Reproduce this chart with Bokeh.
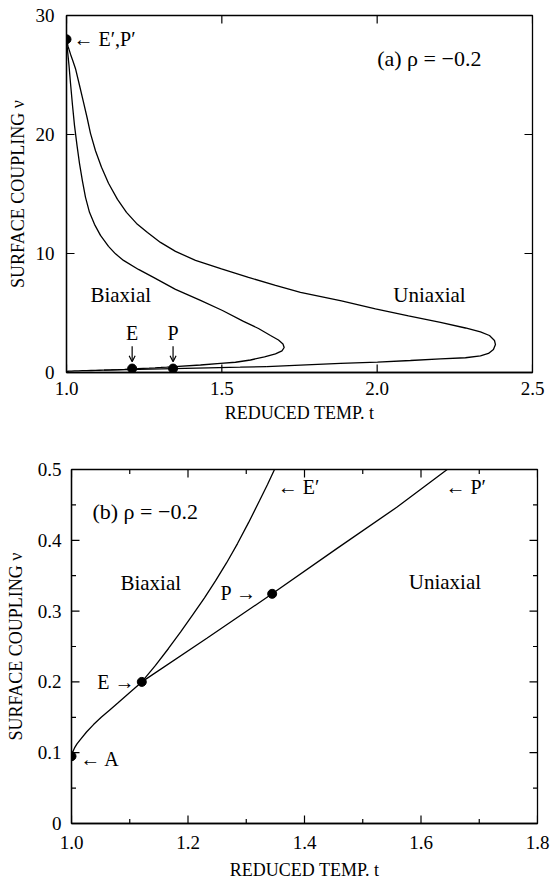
import math
from bokeh.plotting import figure
from bokeh.models import Range1d, FixedTicker, Label, NumeralTickFormatter, Arrow, OpenHead
from bokeh.embed import file_html
from bokeh.resources import INLINE

# ---------------- data ----------------
# panel (a): outer (P') and inner (E') phase boundaries
outer_t = [1.0, 1.0048, 1.0129, 1.0209, 1.029, 1.0418, 1.0537, 1.066, 1.0772, 1.0933,
           1.1127, 1.1352, 1.1641, 1.1931, 1.2253, 1.2607, 1.3025, 1.3508, 1.4152,
           1.4989, 1.5858, 1.6727, 1.7531, 1.8851, 1.9945, 2.1007, 2.2037, 2.2842,
           2.3325, 2.3615, 2.3776, 2.3808, 2.3743, 2.3582, 2.3325, 2.2842, 2.2037,
           2.1072, 2.001, 1.8819, 1.7531, 1.645]
outer_v = [28.0, 27.42, 26.75, 26.16, 25.53, 24.14, 22.83, 21.45, 20.10, 18.63,
           17.24, 15.90, 14.55, 13.46, 12.53, 11.77, 10.93, 10.18, 9.42,
           8.70, 7.99, 7.32, 6.73, 6.01, 5.34, 4.75, 4.21, 3.74,
           3.41, 3.11, 2.69, 2.35, 1.93, 1.60, 1.39, 1.24, 1.14,
           1.01, 0.88, 0.76, 0.62, 0.50]
inner_t = [1.0, 1.0032, 1.008, 1.0129, 1.0193, 1.0257, 1.0338, 1.0418, 1.0515, 1.0612,
           1.074, 1.0901, 1.1094, 1.1352, 1.1577, 1.1835, 1.2317, 1.28, 1.3508, 1.4313,
           1.5021, 1.5697, 1.618, 1.6566, 1.6823, 1.6968, 1.7007, 1.6936, 1.6727,
           1.6373, 1.5922, 1.5439, 1.4957, 1.4313, 1.3485]
inner_v = [28.0, 27.08, 25.82, 24.31, 22.46, 20.77, 19.09, 17.58, 16.06, 14.72,
           13.46, 12.45, 11.52, 10.60, 9.97, 9.42, 8.66, 7.99, 6.98, 6.06,
           5.21, 4.29, 3.70, 3.11, 2.73, 2.40, 2.10, 1.81, 1.56,
           1.32, 1.05, 0.86, 0.76, 0.63, 0.50]

# low-coupling branches (panel b, also drawn in panel a)
ae_t = [1.0, 1.0021, 1.0052, 1.0094, 1.0155, 1.0258, 1.0378, 1.0515, 1.0652, 1.079,
        1.0927, 1.1064, 1.1207]
ae_v = [0.095, 0.1011, 0.1067, 0.1124, 0.1187, 0.1292, 0.1397, 0.1503, 0.1601, 0.1699,
        0.1798, 0.1896, 0.2]
ep_t = [1.1207, 1.1442, 1.1665, 1.1871, 1.2077, 1.2283, 1.2472, 1.2661, 1.285, 1.3039,
        1.3227, 1.3365, 1.3485]
ep_v = [0.2, 0.2233, 0.2472, 0.2704, 0.2942, 0.3188, 0.3427, 0.368, 0.3954, 0.4249,
        0.4558, 0.4789, 0.5]
pp_t = [1.1207, 1.233, 1.3445, 1.456, 1.559, 1.645]
pp_v = [0.2, 0.262, 0.3244, 0.3886, 0.447, 0.5]

# special points
pts_a_t = [1.0, 1.2113, 1.343]
pts_a_v = [28.0, 0.33, 0.33]
pts_b_t = [1.0, 1.1207, 1.3445]
pts_b_v = [0.095, 0.2, 0.3244]

# ticks
xa_ticks = [1.0, 1.5, 2.0, 2.5]
ya_ticks = [0, 10, 20, 30]
xb_ticks = [1.0, 1.2, 1.4, 1.6, 1.8]
xb_minor = [1.1, 1.3, 1.5, 1.7]
yb_ticks = [0.0, 0.1, 0.2, 0.3, 0.4, 0.5]
yb_minor = [0.05, 0.15, 0.25, 0.35, 0.45]

FONT = "Liberation Serif"
XLABEL = "REDUCED TEMP. t"
YLABEL = "SURFACE COUPLING \u03bd"


def style_axis(ax):
    ax.major_tick_in = 0
    ax.major_tick_out = 0
    ax.minor_tick_in = 0
    ax.minor_tick_out = 0
    ax.axis_line_color = "black"
    ax.axis_line_width = 1.3
    ax.major_label_text_font = FONT
    ax.major_label_text_font_size = "19px"
    ax.major_label_text_color = "black"
    ax.axis_label_text_font = FONT
    ax.axis_label_text_font_size = "18px"
    ax.axis_label_text_font_style = "normal"
    ax.axis_label_text_color = "black"


def inward_ticks(p, xticks, yticks, x0, x1, y0, y1, size):
    # short inward tick marks on all four sides (half of each dash is clipped by the frame)
    n, m = len(xticks), len(yticks)
    p.scatter(xticks, [y0] * n, marker="dash", angle=math.pi / 2, size=size,
              line_color="black", line_width=1.2)
    p.scatter(xticks, [y1] * n, marker="dash", angle=math.pi / 2, size=size,
              line_color="black", line_width=1.2)
    p.scatter([x0] * m, yticks, marker="dash", size=size, line_color="black", line_width=1.2)
    p.scatter([x1] * m, yticks, marker="dash", size=size, line_color="black", line_width=1.2)


def add_label(p, x, y, text, align="left", size="21px", baseline="middle", font=FONT):
    p.add_layout(Label(x=x, y=y, text=text, text_font=font, text_font_size=size,
                       text_align=align, text_baseline=baseline, text_color="black"))


def down_arrow(p, x, y0, y1):
    p.add_layout(Arrow(end=OpenHead(size=6, line_width=1.2, line_color="black"),
                       x_start=x, y_start=y0, x_end=x, y_end=y1,
                       line_width=1.2, line_color="black"))


# ---------------- panel (a) ----------------
pa = figure(width=551, height=440, output_backend="svg", toolbar_location=None,
            x_range=Range1d(1.0, 2.5), y_range=Range1d(0, 30),
            min_border_left=66, min_border_right=19, min_border_top=15, min_border_bottom=68,
            x_axis_label=XLABEL, y_axis_label=YLABEL)
pa.grid.visible = False
pa.outline_line_color = "black"
pa.outline_line_width = 1.3
pa.xaxis.ticker = FixedTicker(ticks=xa_ticks, minor_ticks=[])
pa.yaxis.ticker = FixedTicker(ticks=ya_ticks, minor_ticks=[])
pa.xaxis.formatter = NumeralTickFormatter(format="0.0")
for ax in pa.xaxis + pa.yaxis:
    style_axis(ax)
pa.xaxis.major_label_standoff = 9
pa.xaxis.axis_label_standoff = 5
pa.yaxis.major_label_standoff = 12
pa.yaxis.axis_label_standoff = 5

inward_ticks(pa, xa_ticks, ya_ticks, 1.0, 2.5, 0, 30, 16)
for tt, vv in ((outer_t, outer_v), (inner_t, inner_v), (ae_t, ae_v), (ep_t, ep_v), (pp_t, pp_v)):
    pa.line(tt, vv, line_color="black", line_width=1.3)
pa.scatter(pts_a_t, pts_a_v, size=9, color="black")

add_label(pa, 2.0, 26.4, "(a) \u03c1 = \u22120.2", size="22px")
add_label(pa, 1.0225, 28.0, "\u2190 E\u2032,P\u2032", size="20px")
add_label(pa, 1.077, 6.48, "Biaxial")
add_label(pa, 2.052, 6.48, "Uniaxial")
add_label(pa, 1.2113, 3.3, "E", align="center", size="20px")
add_label(pa, 1.343, 3.3, "P", align="center", size="20px")
down_arrow(pa, 1.2113, 2.2, 0.9)
down_arrow(pa, 1.343, 2.2, 0.9)

# ---------------- panel (b) ----------------
pb = figure(width=551, height=442, output_backend="svg", toolbar_location=None,
            x_range=Range1d(1.0, 1.8), y_range=Range1d(0, 0.5),
            min_border_left=71, min_border_right=14, min_border_top=29, min_border_bottom=57,
            x_axis_label=XLABEL, y_axis_label=YLABEL)
pb.grid.visible = False
pb.outline_line_color = "black"
pb.outline_line_width = 1.3
pb.xaxis.ticker = FixedTicker(ticks=xb_ticks, minor_ticks=xb_minor)
pb.yaxis.ticker = FixedTicker(ticks=yb_ticks, minor_ticks=yb_minor)
pb.xaxis.formatter = NumeralTickFormatter(format="0.0")
for ax in pb.xaxis + pb.yaxis:
    style_axis(ax)
pb.yaxis.major_label_overrides = {0: "0", 0.0: "0"}
pb.xaxis.major_label_standoff = 12
pb.xaxis.axis_label_standoff = 8
pb.yaxis.major_label_standoff = 10
pb.yaxis.axis_label_standoff = 9

inward_ticks(pb, xb_ticks, yb_ticks, 1.0, 1.8, 0.0, 0.5, 16)
inward_ticks(pb, xb_minor, yb_minor, 1.0, 1.8, 0.0, 0.5, 9)
for tt, vv in ((ae_t, ae_v), (ep_t, ep_v), (pp_t, pp_v)):
    pb.line(tt, vv, line_color="black", line_width=1.3)
pb.scatter(pts_b_t, pts_b_v, size=9, color="black")

add_label(pb, 1.036, 0.44, "(b) \u03c1 = \u22120.2", size="22px")
add_label(pb, 1.084, 0.34, "Biaxial")
add_label(pb, 1.579, 0.341, "Uniaxial")
add_label(pb, 1.318, 0.325, "P \u2192", size="20px", align="right")
add_label(pb, 1.354, 0.475, "\u2190 E\u2032", size="20px")
add_label(pb, 1.642, 0.475, "\u2190 P\u2032", size="20px")
add_label(pb, 1.108, 0.2, "E \u2192", size="20px", align="right")
add_label(pb, 1.015, 0.091, "\u2190 A", size="20px")

open("out.html", "w").write(file_html([pa, pb], INLINE))
